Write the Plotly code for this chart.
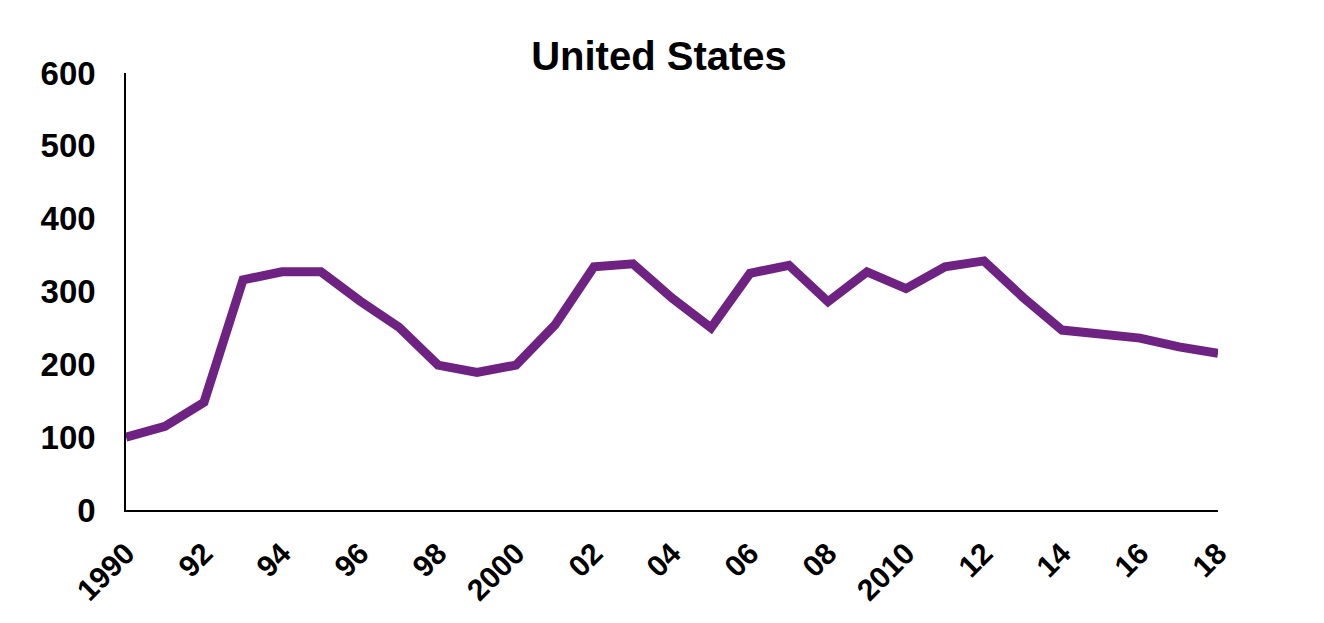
import plotly.graph_objects as go

years = list(range(1990, 2019))
values = [100, 115, 148, 316, 327, 327, 287, 251, 199, 189, 199, 254, 334, 338,
          291, 250, 325, 336, 286, 327, 304, 334, 342, 292, 247, 243, 236, 224, 215]
tick_years = list(range(1990, 2019, 2))
tick_labels = ["1990", "92", "94", "96", "98", "2000", "02", "04", "06", "08",
               "2010", "12", "14", "16", "18"]
y_ticks = [0, 100, 200, 300, 400, 500, 600]

FONT = "Liberation Sans"

fig = go.Figure()
fig.add_trace(go.Scatter(
    x=years, y=values, mode="lines",
    line=dict(color="#6E2282", width=9),
    hoverinfo="x+y",
))

fig.update_layout(
    width=1324, height=623,
    paper_bgcolor="white", plot_bgcolor="white",
    margin=dict(l=118, r=114, t=65, b=121),
    showlegend=False,
    title=dict(text="<b>United States</b>", x=(659 - 8) / 1324, xanchor="center",
               yref="container", y=1 - 48 / 623, yanchor="middle",
               font=dict(family=FONT, size=40, color="black")),
    xaxis=dict(
        range=[1990, 2018], tickmode="array", tickvals=tick_years, ticktext=tick_labels,
        tickangle=-45, showgrid=False, zeroline=False,
        showline=True, linecolor="black", linewidth=1.5,
        ticks="outside", ticklen=12, tickcolor="rgba(0,0,0,0)",
        tickfont=dict(family=FONT, size=30, color="black", weight="bold"),
    ),
    yaxis=dict(
        range=[0, 600], tickmode="array", tickvals=y_ticks,
        showgrid=False, zeroline=False,
        showline=True, linecolor="black", linewidth=1.5,
        ticks="outside", ticklen=22, tickcolor="rgba(0,0,0,0)",
        tickfont=dict(family=FONT, size=33, color="black", weight="bold"),
    ),
)

fig.write_html("out.html")
